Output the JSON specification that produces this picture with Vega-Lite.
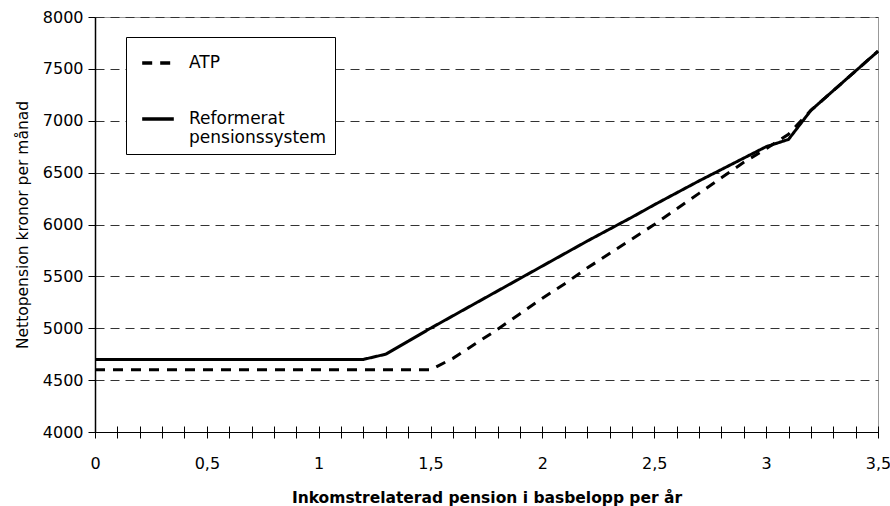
{
  "$schema": "https://vega.github.io/schema/vega-lite/v6.json",
  "width": 783,
  "height": 415,
  "autosize": {"type": "none"},
  "padding": {"left": 95, "top": 17, "right": 12, "bottom": 74},
  "background": "white",
  "config": {
    "view": {"stroke": "#999999", "strokeWidth": 1},
    "font": "DejaVu Sans"
  },
  "data": {
    "values": [
      {"x": 0.0, "series": "ATP", "value": 4600},
      {"x": 0.1, "series": "ATP", "value": 4600},
      {"x": 0.2, "series": "ATP", "value": 4600},
      {"x": 0.3, "series": "ATP", "value": 4600},
      {"x": 0.4, "series": "ATP", "value": 4600},
      {"x": 0.5, "series": "ATP", "value": 4600},
      {"x": 0.6, "series": "ATP", "value": 4600},
      {"x": 0.7, "series": "ATP", "value": 4600},
      {"x": 0.8, "series": "ATP", "value": 4600},
      {"x": 0.9, "series": "ATP", "value": 4600},
      {"x": 1.0, "series": "ATP", "value": 4600},
      {"x": 1.1, "series": "ATP", "value": 4600},
      {"x": 1.2, "series": "ATP", "value": 4600},
      {"x": 1.3, "series": "ATP", "value": 4600},
      {"x": 1.4, "series": "ATP", "value": 4600},
      {"x": 1.5, "series": "ATP", "value": 4600},
      {"x": 1.6, "series": "ATP", "value": 4710},
      {"x": 1.7, "series": "ATP", "value": 4850},
      {"x": 1.8, "series": "ATP", "value": 4990},
      {"x": 1.9, "series": "ATP", "value": 5140},
      {"x": 2.0, "series": "ATP", "value": 5290},
      {"x": 2.1, "series": "ATP", "value": 5430},
      {"x": 2.2, "series": "ATP", "value": 5580},
      {"x": 2.3, "series": "ATP", "value": 5720},
      {"x": 2.4, "series": "ATP", "value": 5860},
      {"x": 2.5, "series": "ATP", "value": 6000},
      {"x": 2.6, "series": "ATP", "value": 6150},
      {"x": 2.7, "series": "ATP", "value": 6300},
      {"x": 2.8, "series": "ATP", "value": 6450},
      {"x": 2.9, "series": "ATP", "value": 6600},
      {"x": 3.0, "series": "ATP", "value": 6730},
      {"x": 3.1, "series": "ATP", "value": 6870},
      {"x": 3.2, "series": "ATP", "value": 7100},
      {"x": 3.3, "series": "ATP", "value": 7290},
      {"x": 3.4, "series": "ATP", "value": 7480},
      {"x": 3.5, "series": "ATP", "value": 7670},
      {"x": 0.0, "series": "Reformerat pensionssystem", "value": 4700},
      {"x": 0.1, "series": "Reformerat pensionssystem", "value": 4700},
      {"x": 0.2, "series": "Reformerat pensionssystem", "value": 4700},
      {"x": 0.3, "series": "Reformerat pensionssystem", "value": 4700},
      {"x": 0.4, "series": "Reformerat pensionssystem", "value": 4700},
      {"x": 0.5, "series": "Reformerat pensionssystem", "value": 4700},
      {"x": 0.6, "series": "Reformerat pensionssystem", "value": 4700},
      {"x": 0.7, "series": "Reformerat pensionssystem", "value": 4700},
      {"x": 0.8, "series": "Reformerat pensionssystem", "value": 4700},
      {"x": 0.9, "series": "Reformerat pensionssystem", "value": 4700},
      {"x": 1.0, "series": "Reformerat pensionssystem", "value": 4700},
      {"x": 1.1, "series": "Reformerat pensionssystem", "value": 4700},
      {"x": 1.2, "series": "Reformerat pensionssystem", "value": 4700},
      {"x": 1.3, "series": "Reformerat pensionssystem", "value": 4750},
      {"x": 1.4, "series": "Reformerat pensionssystem", "value": 4875},
      {"x": 1.5, "series": "Reformerat pensionssystem", "value": 5000},
      {"x": 1.6, "series": "Reformerat pensionssystem", "value": 5120},
      {"x": 1.7, "series": "Reformerat pensionssystem", "value": 5240},
      {"x": 1.8, "series": "Reformerat pensionssystem", "value": 5360},
      {"x": 1.9, "series": "Reformerat pensionssystem", "value": 5480},
      {"x": 2.0, "series": "Reformerat pensionssystem", "value": 5600},
      {"x": 2.1, "series": "Reformerat pensionssystem", "value": 5720},
      {"x": 2.2, "series": "Reformerat pensionssystem", "value": 5840},
      {"x": 2.3, "series": "Reformerat pensionssystem", "value": 5955},
      {"x": 2.4, "series": "Reformerat pensionssystem", "value": 6070},
      {"x": 2.5, "series": "Reformerat pensionssystem", "value": 6190},
      {"x": 2.6, "series": "Reformerat pensionssystem", "value": 6305},
      {"x": 2.7, "series": "Reformerat pensionssystem", "value": 6420},
      {"x": 2.8, "series": "Reformerat pensionssystem", "value": 6530},
      {"x": 2.9, "series": "Reformerat pensionssystem", "value": 6640},
      {"x": 3.0, "series": "Reformerat pensionssystem", "value": 6750},
      {"x": 3.1, "series": "Reformerat pensionssystem", "value": 6820},
      {"x": 3.2, "series": "Reformerat pensionssystem", "value": 7100},
      {"x": 3.3, "series": "Reformerat pensionssystem", "value": 7290},
      {"x": 3.4, "series": "Reformerat pensionssystem", "value": 7480},
      {"x": 3.5, "series": "Reformerat pensionssystem", "value": 7670}
    ]
  },
  "mark": {"type": "line", "color": "black", "strokeWidth": 3, "strokeCap": "butt", "clip": false},
  "encoding": {
    "x": {
      "field": "x",
      "type": "quantitative",
      "scale": {"domain": [0, 3.5], "nice": false, "zero": false},
      "axis": {
        "title": "Inkomstrelaterad pension i basbelopp per år",
        "titleFont": "DejaVu Sans",
        "titleFontSize": 15.5,
        "titleFontWeight": "bold",
        "titleColor": "black",
        "titlePadding": 19,
        "values": [0, 0.1, 0.2, 0.3, 0.4, 0.5, 0.6, 0.7, 0.8, 0.9, 1, 1.1, 1.2, 1.3, 1.4, 1.5, 1.6, 1.7, 1.8, 1.9, 2, 2.1, 2.2, 2.3, 2.4, 2.5, 2.6, 2.7, 2.8, 2.9, 3, 3.1, 3.2, 3.3, 3.4, 3.5],
        "labelExpr": "abs(datum.value * 2 - round(datum.value * 2)) < 0.001 ? replace(format(datum.value, ''), '.', ',') : ''",
        "labelOverlap": false,
        "labelFlush": false,
        "labelFont": "DejaVu Sans",
        "labelFontSize": 16,
        "labelColor": "black",
        "labelPadding": 17,
        "offset": -6,
        "domain": false,
        "tickSize": 12,
        "tickColor": "black",
        "tickWidth": 1,
        "grid": false
      }
    },
    "y": {
      "field": "value",
      "type": "quantitative",
      "scale": {"domain": [4000, 8000], "nice": false, "zero": false},
      "axis": {
        "title": "Nettopension kronor per månad",
        "titleFont": "DejaVu Sans",
        "titleFontSize": 15.5,
        "titleFontWeight": "normal",
        "titleColor": "black",
        "titlePadding": 12,
        "values": [4000, 4500, 5000, 5500, 6000, 6500, 7000, 7500, 8000],
        "format": "d",
        "labelFont": "DejaVu Sans",
        "labelFontSize": 16,
        "labelColor": "black",
        "labelPadding": 5,
        "tickSize": 7,
        "tickColor": "black",
        "domainColor": "black",
        "domainWidth": 1.5,
        "grid": true,
        "gridColor": {"condition": {"test": "datum.value == 4000", "value": "black"}, "value": "#333333"},
        "gridDash": {"condition": {"test": "datum.value == 4000", "value": []}, "value": [9, 6]},
        "gridWidth": 1
      }
    },
    "strokeDash": {
      "field": "series",
      "type": "nominal",
      "scale": {"domain": ["ATP", "Reformerat pensionssystem"], "range": [[10, 8], [1, 0]]},
      "legend": {
        "orient": "none",
        "legendX": 31,
        "legendY": 20,
        "title": null,
        "strokeColor": "black",
        "fillColor": "white",
        "padding": 8,
        "symbolOffset": 6,
        "symbolType": "stroke",
        "symbolSize": 1000,
        "symbolStrokeWidth": 3.5,
        "symbolStrokeColor": "black",
        "labelFont": "DejaVu Sans",
        "labelFontSize": 17,
        "labelColor": "black",
        "labelOffset": 13,
        "labelLimit": 300,
        "rowPadding": 30,
        "labelExpr": "datum.label == 'Reformerat pensionssystem' ? ['Reformerat', 'pensionssystem'] : datum.label"
      }
    }
  }
}
